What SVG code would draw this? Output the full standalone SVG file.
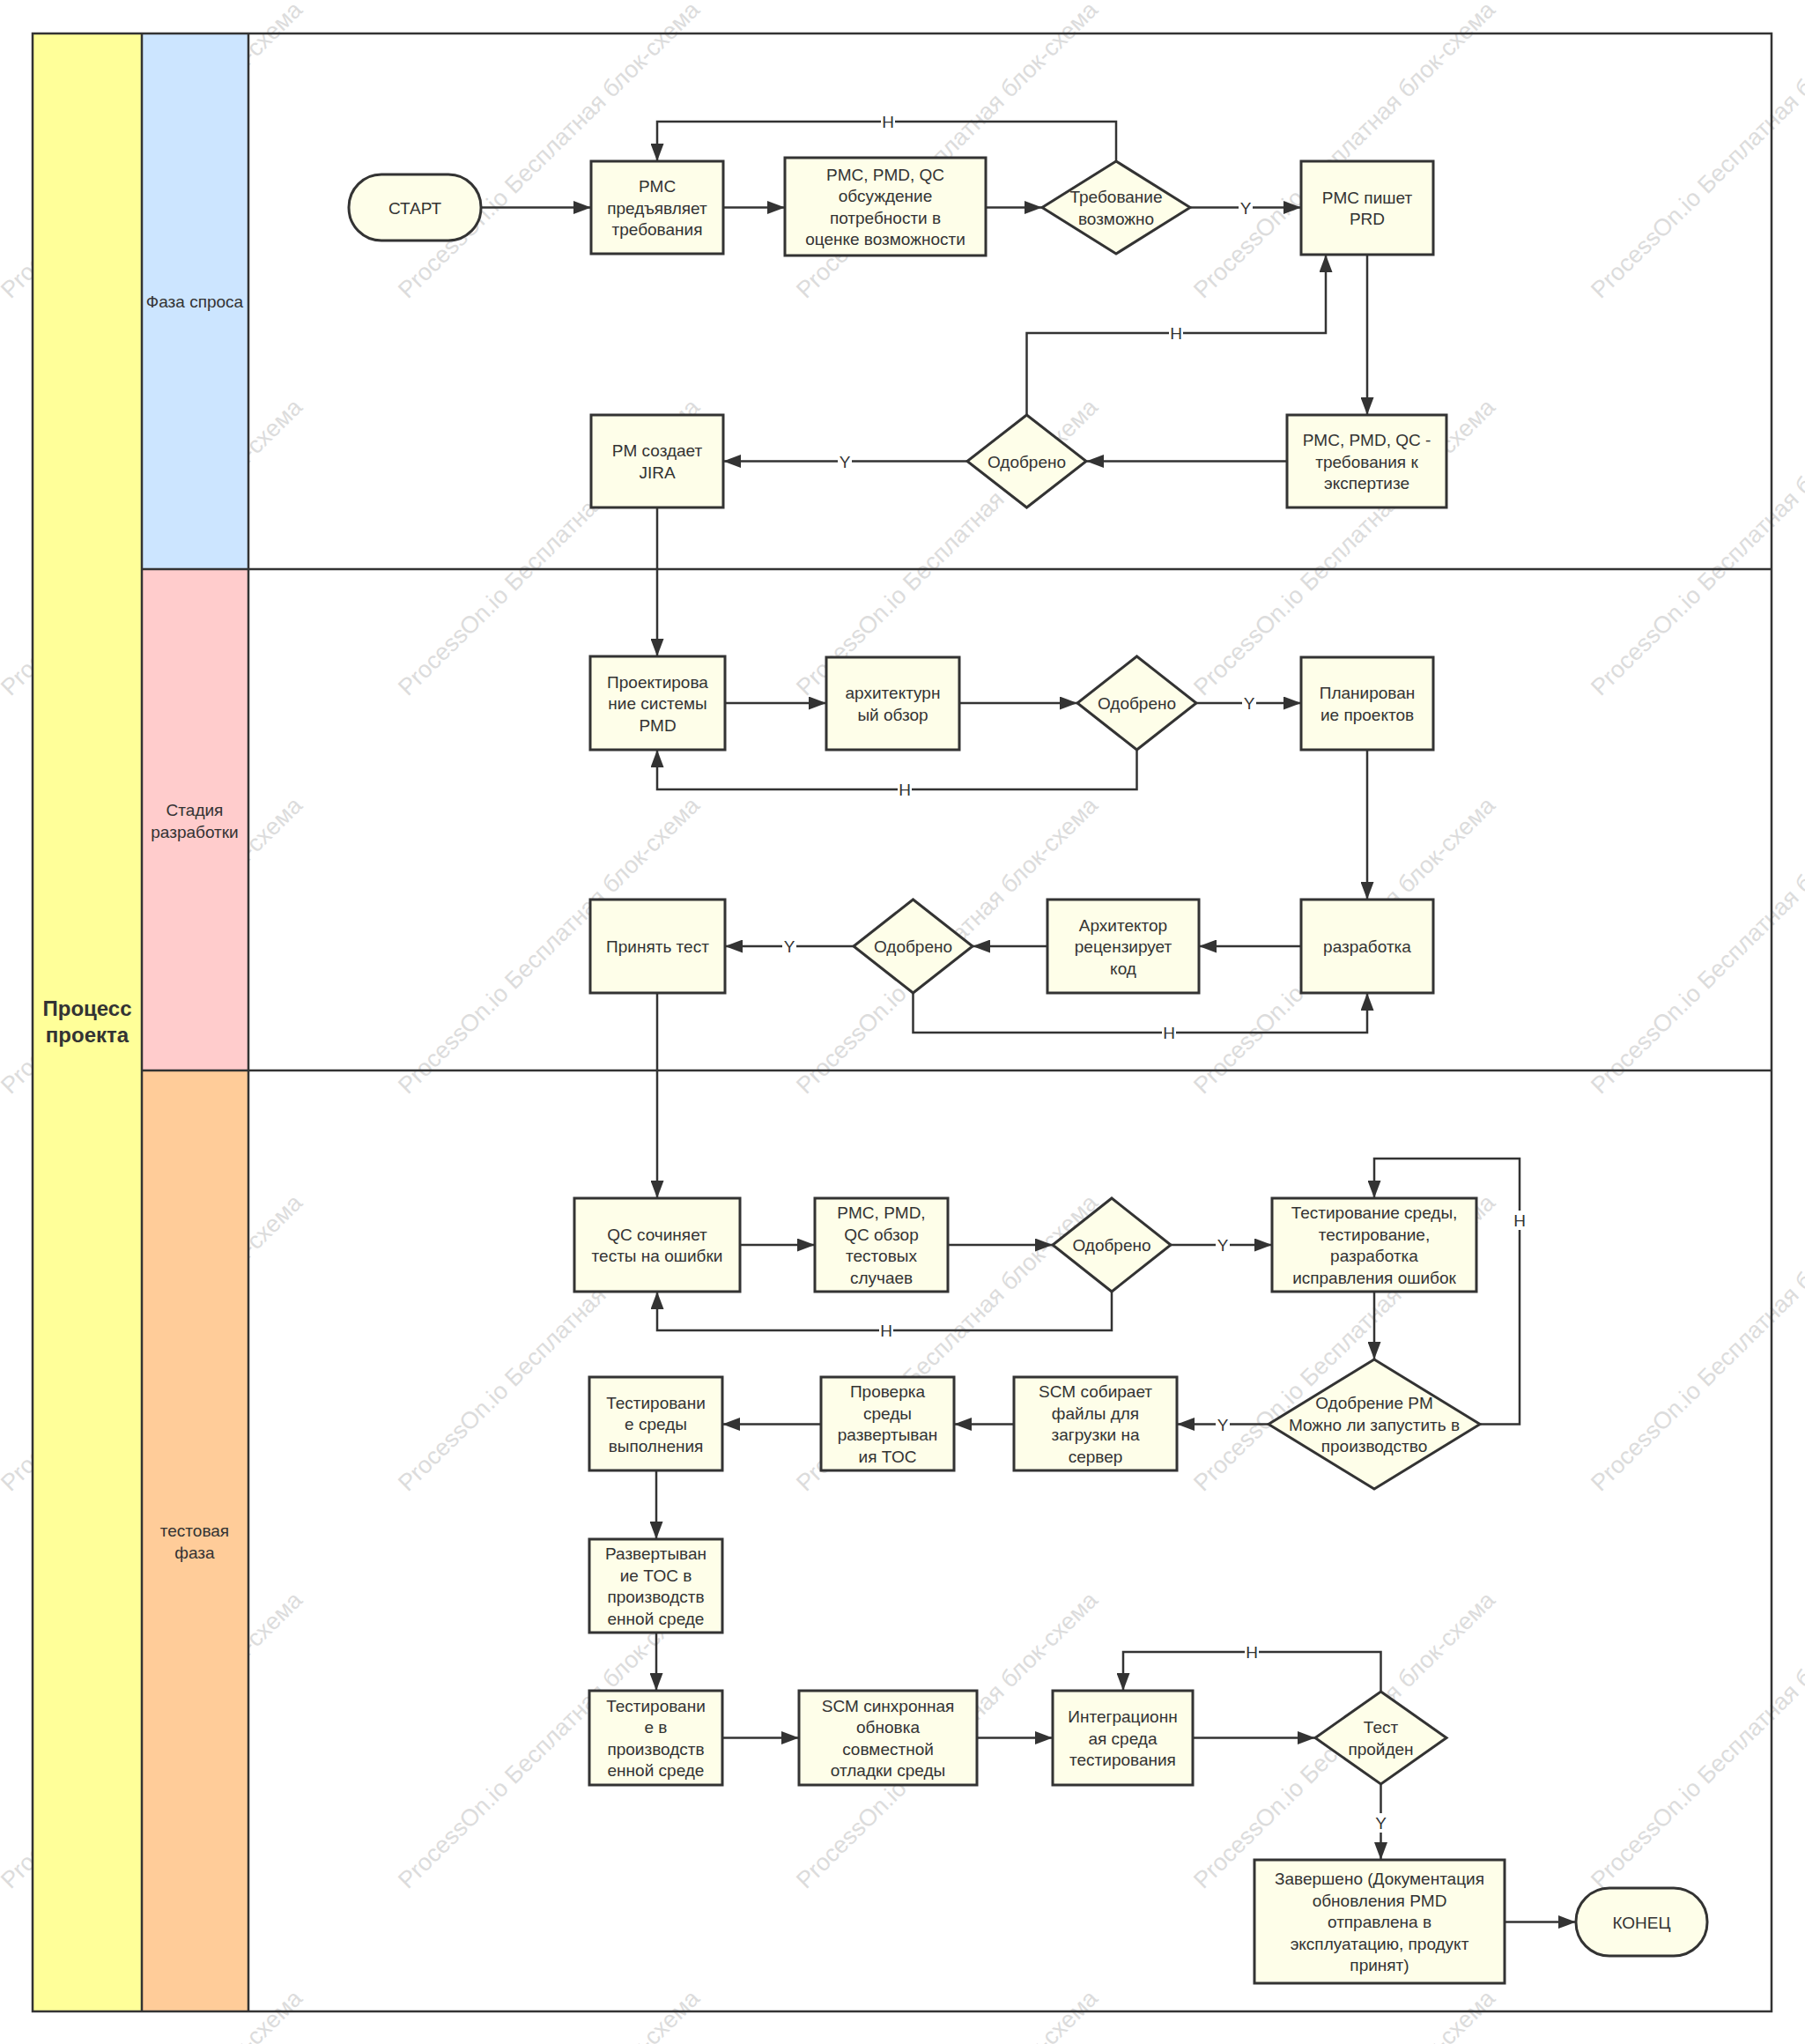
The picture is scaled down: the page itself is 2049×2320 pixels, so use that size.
<svg xmlns="http://www.w3.org/2000/svg" width="2049" height="2320" viewBox="0 0 2049 2320">
<defs>
<marker id="arr" markerUnits="userSpaceOnUse" markerWidth="20" markerHeight="15" refX="20" refY="7.5" orient="auto">
<path d="M0,0 L20,7.5 L0,15 z" fill="#333"/>
</marker>
</defs>
<style>
.node{fill:#fefee9;stroke:#333;stroke-width:3}
.t{font-family:"Liberation Sans",Arial,sans-serif;font-size:19px;fill:#333;text-anchor:middle}
.edge{fill:none;stroke:#333;stroke-width:2.5;marker-end:url(#arr)}
.lb{fill:#fff}
.frame{fill:none;stroke:#333;stroke-width:2.5}
.wm{font-family:"Liberation Sans",Arial,sans-serif;font-size:27px;fill:#dcdcdc}
</style>
<rect x="0" y="0" width="2049" height="2320" fill="#fff"/>
<g id="watermark">
<text class="wm" transform="translate(12,340) rotate(-44.5)">ProcessOn.io Бесплатная блок-схема</text>
<text class="wm" transform="translate(463,340) rotate(-44.5)">ProcessOn.io Бесплатная блок-схема</text>
<text class="wm" transform="translate(915,340) rotate(-44.5)">ProcessOn.io Бесплатная блок-схема</text>
<text class="wm" transform="translate(1366,340) rotate(-44.5)">ProcessOn.io Бесплатная блок-схема</text>
<text class="wm" transform="translate(1817,340) rotate(-44.5)">ProcessOn.io Бесплатная блок-схема</text>
<text class="wm" transform="translate(12,791) rotate(-44.5)">ProcessOn.io Бесплатная блок-схема</text>
<text class="wm" transform="translate(463,791) rotate(-44.5)">ProcessOn.io Бесплатная блок-схема</text>
<text class="wm" transform="translate(915,791) rotate(-44.5)">ProcessOn.io Бесплатная блок-схема</text>
<text class="wm" transform="translate(1366,791) rotate(-44.5)">ProcessOn.io Бесплатная блок-схема</text>
<text class="wm" transform="translate(1817,791) rotate(-44.5)">ProcessOn.io Бесплатная блок-схема</text>
<text class="wm" transform="translate(12,1243) rotate(-44.5)">ProcessOn.io Бесплатная блок-схема</text>
<text class="wm" transform="translate(463,1243) rotate(-44.5)">ProcessOn.io Бесплатная блок-схема</text>
<text class="wm" transform="translate(915,1243) rotate(-44.5)">ProcessOn.io Бесплатная блок-схема</text>
<text class="wm" transform="translate(1366,1243) rotate(-44.5)">ProcessOn.io Бесплатная блок-схема</text>
<text class="wm" transform="translate(1817,1243) rotate(-44.5)">ProcessOn.io Бесплатная блок-схема</text>
<text class="wm" transform="translate(12,1694) rotate(-44.5)">ProcessOn.io Бесплатная блок-схема</text>
<text class="wm" transform="translate(463,1694) rotate(-44.5)">ProcessOn.io Бесплатная блок-схема</text>
<text class="wm" transform="translate(915,1694) rotate(-44.5)">ProcessOn.io Бесплатная блок-схема</text>
<text class="wm" transform="translate(1366,1694) rotate(-44.5)">ProcessOn.io Бесплатная блок-схема</text>
<text class="wm" transform="translate(1817,1694) rotate(-44.5)">ProcessOn.io Бесплатная блок-схема</text>
<text class="wm" transform="translate(12,2145) rotate(-44.5)">ProcessOn.io Бесплатная блок-схема</text>
<text class="wm" transform="translate(463,2145) rotate(-44.5)">ProcessOn.io Бесплатная блок-схема</text>
<text class="wm" transform="translate(915,2145) rotate(-44.5)">ProcessOn.io Бесплатная блок-схема</text>
<text class="wm" transform="translate(1366,2145) rotate(-44.5)">ProcessOn.io Бесплатная блок-схема</text>
<text class="wm" transform="translate(1817,2145) rotate(-44.5)">ProcessOn.io Бесплатная блок-схема</text>
<text class="wm" transform="translate(12,2597) rotate(-44.5)">ProcessOn.io Бесплатная блок-схема</text>
<text class="wm" transform="translate(463,2597) rotate(-44.5)">ProcessOn.io Бесплатная блок-схема</text>
<text class="wm" transform="translate(915,2597) rotate(-44.5)">ProcessOn.io Бесплатная блок-схема</text>
<text class="wm" transform="translate(1366,2597) rotate(-44.5)">ProcessOn.io Бесплатная блок-схема</text>
<text class="wm" transform="translate(1817,2597) rotate(-44.5)">ProcessOn.io Бесплатная блок-схема</text>
</g>
<g id="pool">
<rect x="37" y="38" width="124" height="2245" fill="#ffff99"/>
<rect x="161" y="38" width="121" height="608" fill="#cce5ff"/>
<rect x="161" y="646" width="121" height="569" fill="#ffcccc"/>
<rect x="161" y="1215" width="121" height="1068" fill="#ffcc99"/>
<rect x="37" y="38" width="1974" height="2245" class="frame"/>
<line x1="161" y1="38" x2="161" y2="2283" class="frame"/>
<line x1="282" y1="38" x2="282" y2="2283" class="frame" stroke-width="2"/>
<line x1="161" y1="646" x2="2011" y2="646" class="frame"/>
<line x1="161" y1="1215" x2="2011" y2="1215" class="frame" stroke-width="3.5"/>
<text class="t" style="font-weight:bold;font-size:24px" x="99"><tspan x="99" y="1153">Процесс</tspan><tspan x="99" y="1183">проекта</tspan></text>
<text class="t" x="221"><tspan x="221" y="349">Фаза спроса</tspan></text>
<text class="t" x="221"><tspan x="221" y="926">Стадия</tspan><tspan x="221" y="950.5">разработки</tspan></text>
<text class="t" x="221"><tspan x="221" y="1744">тестовая</tspan><tspan x="221" y="1768.5">фаза</tspan></text>
</g>
<g id="connectors">
<path class="edge" d="M546,235.5 L671,235.5"/>
<path class="edge" d="M821,235.5 L891,235.5"/>
<path class="edge" d="M1119,235.5 L1183,235.5"/>
<path class="edge" d="M1351,235.5 L1477,235.5"/>
<path class="edge" d="M1267,183 L1267,138 L746,138 L746,183"/>
<path class="edge" d="M1552,289 L1552,471"/>
<path class="edge" d="M1461,523.5 L1233,523.5"/>
<path class="edge" d="M1098,523.5 L821,523.5"/>
<path class="edge" d="M1165.5,471 L1165.5,378 L1505,378 L1505,289"/>
<path class="edge" d="M746,576 L746,745"/>
<path class="edge" d="M823,798 L938,798"/>
<path class="edge" d="M1089,798 L1223,798"/>
<path class="edge" d="M1358,798 L1477,798"/>
<path class="edge" d="M1290.5,851 L1290.5,896 L746,896 L746,851"/>
<path class="edge" d="M1552,851 L1552,1021"/>
<path class="edge" d="M1477,1074 L1361,1074"/>
<path class="edge" d="M1189,1074 L1104,1074"/>
<path class="edge" d="M969,1074 L823,1074"/>
<path class="edge" d="M1036.5,1127 L1036.5,1172 L1552,1172 L1552,1127"/>
<path class="edge" d="M746,1127 L746,1360"/>
<path class="edge" d="M840,1413 L925,1413"/>
<path class="edge" d="M1076,1413 L1195,1413"/>
<path class="edge" d="M1329,1413 L1444,1413"/>
<path class="edge" d="M1262,1466 L1262,1510 L746,1510 L746,1466"/>
<path class="edge" d="M1560,1466 L1560,1543"/>
<path class="edge" d="M1680,1616.5 L1725,1616.5 L1725,1315 L1560,1315 L1560,1360"/>
<path class="edge" d="M1440,1616.5 L1336,1616.5"/>
<path class="edge" d="M1151,1616.5 L1083,1616.5"/>
<path class="edge" d="M932,1616.5 L820,1616.5"/>
<path class="edge" d="M745,1669 L745,1747"/>
<path class="edge" d="M745,1853 L745,1919"/>
<path class="edge" d="M820,1972.5 L907,1972.5"/>
<path class="edge" d="M1109,1972.5 L1195,1972.5"/>
<path class="edge" d="M1354,1972.5 L1493,1972.5"/>
<path class="edge" d="M1567.5,1920 L1567.5,1875 L1275,1875 L1275,1919"/>
<path class="edge" d="M1567.5,2025 L1567.5,2111"/>
<path class="edge" d="M1708,2181.5 L1789,2181.5"/>
<g id="edge-labels">
<rect class="lb" x="1000" y="127" width="16" height="22"/><text class="t" x="1008" y="145">Н</text>
<rect class="lb" x="1406" y="224.5" width="16" height="22"/><text class="t" x="1414" y="242.5">Y</text>
<rect class="lb" x="1327" y="367" width="16" height="22"/><text class="t" x="1335" y="385">Н</text>
<rect class="lb" x="951" y="512.5" width="16" height="22"/><text class="t" x="959" y="530.5">Y</text>
<rect class="lb" x="1410" y="787" width="16" height="22"/><text class="t" x="1418" y="805">Y</text>
<rect class="lb" x="1019" y="885" width="16" height="22"/><text class="t" x="1027" y="903">Н</text>
<rect class="lb" x="888" y="1063" width="16" height="22"/><text class="t" x="896" y="1081">Y</text>
<rect class="lb" x="1319" y="1161" width="16" height="22"/><text class="t" x="1327" y="1179">Н</text>
<rect class="lb" x="1380" y="1402" width="16" height="22"/><text class="t" x="1388" y="1420">Y</text>
<rect class="lb" x="998" y="1499" width="16" height="22"/><text class="t" x="1006" y="1517">Н</text>
<rect class="lb" x="1717" y="1374" width="16" height="22"/><text class="t" x="1725" y="1392">Н</text>
<rect class="lb" x="1380" y="1605.5" width="16" height="22"/><text class="t" x="1388" y="1623.5">Y</text>
<rect class="lb" x="1413" y="1864" width="16" height="22"/><text class="t" x="1421" y="1882">Н</text>
<rect class="lb" x="1559.5" y="2058" width="16" height="22"/><text class="t" x="1567.5" y="2076">Y</text>
</g>
</g>
<g id="n1"><rect class="node" x="396" y="198" width="150" height="75" rx="37"/><text class="t" x="471" y="242.5">СТАРТ</text></g>
<g id="n2"><rect class="node" x="671" y="183" width="150" height="105"/><text class="t"><tspan x="746" y="218">PMC</tspan><tspan x="746" y="242.5">предъявляет</tspan><tspan x="746" y="267">требования</tspan></text></g>
<g id="n3"><rect class="node" x="891" y="179" width="228" height="111"/><text class="t"><tspan x="1005" y="204.75">PMC, PMD, QC</tspan><tspan x="1005" y="229.25">обсуждение</tspan><tspan x="1005" y="253.75">потребности в</tspan><tspan x="1005" y="278.25">оценке возможности</tspan></text></g>
<g id="n4"><polygon class="node" points="1267,183 1351,235.5 1267,288 1183,235.5"/><text class="t"><tspan x="1267" y="230.25">Требование</tspan><tspan x="1267" y="254.75">возможно</tspan></text></g>
<g id="n5"><rect class="node" x="1477" y="183" width="150" height="106"/><text class="t"><tspan x="1552" y="230.75">PMC пишет</tspan><tspan x="1552" y="255.25">PRD</tspan></text></g>
<g id="n6"><rect class="node" x="1461" y="471" width="181" height="105"/><text class="t"><tspan x="1551.5" y="506">PMC, PMD, QC -</tspan><tspan x="1551.5" y="530.5">требования к</tspan><tspan x="1551.5" y="555">экспертизе</tspan></text></g>
<g id="n7"><polygon class="node" points="1165.5,471 1233,523.5 1165.5,576 1098,523.5"/><text class="t" x="1165.5" y="530.5">Одобрено</text></g>
<g id="n8"><rect class="node" x="671" y="471" width="150" height="105"/><text class="t"><tspan x="746" y="518.25">PM создает</tspan><tspan x="746" y="542.75">JIRA</tspan></text></g>
<g id="n9"><rect class="node" x="670" y="745" width="153" height="106"/><text class="t"><tspan x="746.5" y="780.5">Проектирова</tspan><tspan x="746.5" y="805">ние системы</tspan><tspan x="746.5" y="829.5">PMD</tspan></text></g>
<g id="n10"><rect class="node" x="938" y="746" width="151" height="105"/><text class="t"><tspan x="1013.5" y="793.25">архитектурн</tspan><tspan x="1013.5" y="817.75">ый обзор</tspan></text></g>
<g id="n11"><polygon class="node" points="1290.5,745 1358,798 1290.5,851 1223,798"/><text class="t" x="1290.5" y="805">Одобрено</text></g>
<g id="n12"><rect class="node" x="1477" y="746" width="150" height="105"/><text class="t"><tspan x="1552" y="793.25">Планирован</tspan><tspan x="1552" y="817.75">ие проектов</tspan></text></g>
<g id="n13"><rect class="node" x="1477" y="1021" width="150" height="106"/><text class="t" x="1552" y="1081">разработка</text></g>
<g id="n14"><rect class="node" x="1189" y="1021" width="172" height="106"/><text class="t"><tspan x="1275" y="1056.5">Архитектор</tspan><tspan x="1275" y="1081">рецензирует</tspan><tspan x="1275" y="1105.5">код</tspan></text></g>
<g id="n15"><polygon class="node" points="1036.5,1021 1104,1074 1036.5,1127 969,1074"/><text class="t" x="1036.5" y="1081">Одобрено</text></g>
<g id="n16"><rect class="node" x="670" y="1021" width="153" height="106"/><text class="t" x="746.5" y="1081">Принять тест</text></g>
<g id="n17"><rect class="node" x="652" y="1360" width="188" height="106"/><text class="t"><tspan x="746" y="1407.75">QC сочиняет</tspan><tspan x="746" y="1432.25">тесты на ошибки</tspan></text></g>
<g id="n18"><rect class="node" x="925" y="1360" width="151" height="106"/><text class="t"><tspan x="1000.5" y="1383.25">PMC, PMD,</tspan><tspan x="1000.5" y="1407.75">QC обзор</tspan><tspan x="1000.5" y="1432.25">тестовых</tspan><tspan x="1000.5" y="1456.75">случаев</tspan></text></g>
<g id="n19"><polygon class="node" points="1262,1360 1329,1413 1262,1466 1195,1413"/><text class="t" x="1262" y="1420">Одобрено</text></g>
<g id="n20"><rect class="node" x="1444" y="1360" width="232" height="106"/><text class="t"><tspan x="1560" y="1383.25">Тестирование среды,</tspan><tspan x="1560" y="1407.75">тестирование,</tspan><tspan x="1560" y="1432.25">разработка</tspan><tspan x="1560" y="1456.75">исправления ошибок</tspan></text></g>
<g id="n21"><polygon class="node" points="1560,1543 1680,1616.5 1560,1690 1440,1616.5"/><text class="t"><tspan x="1560" y="1599">Одобрение PM</tspan><tspan x="1560" y="1623.5">Можно ли запустить в</tspan><tspan x="1560" y="1648">производство</tspan></text></g>
<g id="n22"><rect class="node" x="1151" y="1563" width="185" height="106"/><text class="t"><tspan x="1243.5" y="1586.25">SCM собирает</tspan><tspan x="1243.5" y="1610.75">файлы для</tspan><tspan x="1243.5" y="1635.25">загрузки на</tspan><tspan x="1243.5" y="1659.75">сервер</tspan></text></g>
<g id="n23"><rect class="node" x="932" y="1563" width="151" height="106"/><text class="t"><tspan x="1007.5" y="1586.25">Проверка</tspan><tspan x="1007.5" y="1610.75">среды</tspan><tspan x="1007.5" y="1635.25">развертыван</tspan><tspan x="1007.5" y="1659.75">ия TOC</tspan></text></g>
<g id="n24"><rect class="node" x="669" y="1563" width="151" height="106"/><text class="t"><tspan x="744.5" y="1598.5">Тестировани</tspan><tspan x="744.5" y="1623">е среды</tspan><tspan x="744.5" y="1647.5">выполнения</tspan></text></g>
<g id="n25"><rect class="node" x="669" y="1747" width="151" height="106"/><text class="t"><tspan x="744.5" y="1770.25">Развертыван</tspan><tspan x="744.5" y="1794.75">ие TOC в</tspan><tspan x="744.5" y="1819.25">производств</tspan><tspan x="744.5" y="1843.75">енной среде</tspan></text></g>
<g id="n26"><rect class="node" x="669" y="1919" width="151" height="107"/><text class="t"><tspan x="744.5" y="1942.75">Тестировани</tspan><tspan x="744.5" y="1967.25">е в</tspan><tspan x="744.5" y="1991.75">производств</tspan><tspan x="744.5" y="2016.25">енной среде</tspan></text></g>
<g id="n27"><rect class="node" x="907" y="1919" width="202" height="107"/><text class="t"><tspan x="1008" y="1942.75">SCM синхронная</tspan><tspan x="1008" y="1967.25">обновка</tspan><tspan x="1008" y="1991.75">совместной</tspan><tspan x="1008" y="2016.25">отладки среды</tspan></text></g>
<g id="n28"><rect class="node" x="1195" y="1919" width="159" height="107"/><text class="t"><tspan x="1274.5" y="1955">Интеграционн</tspan><tspan x="1274.5" y="1979.5">ая среда</tspan><tspan x="1274.5" y="2004">тестирования</tspan></text></g>
<g id="n29"><polygon class="node" points="1567.5,1920 1642,1972.5 1567.5,2025 1493,1972.5"/><text class="t"><tspan x="1567.5" y="1967.25">Тест</tspan><tspan x="1567.5" y="1991.75">пройден</tspan></text></g>
<g id="n30"><rect class="node" x="1424" y="2111" width="284" height="140"/><text class="t"><tspan x="1566" y="2139">Завершено (Документация</tspan><tspan x="1566" y="2163.5">обновления PMD</tspan><tspan x="1566" y="2188">отправлена в</tspan><tspan x="1566" y="2212.5">эксплуатацию, продукт</tspan><tspan x="1566" y="2237">принят)</tspan></text></g>
<g id="n31"><rect class="node" x="1789" y="2143" width="149" height="77" rx="38"/><text class="t" x="1863.5" y="2188.5">КОНЕЦ</text></g>
</svg>
